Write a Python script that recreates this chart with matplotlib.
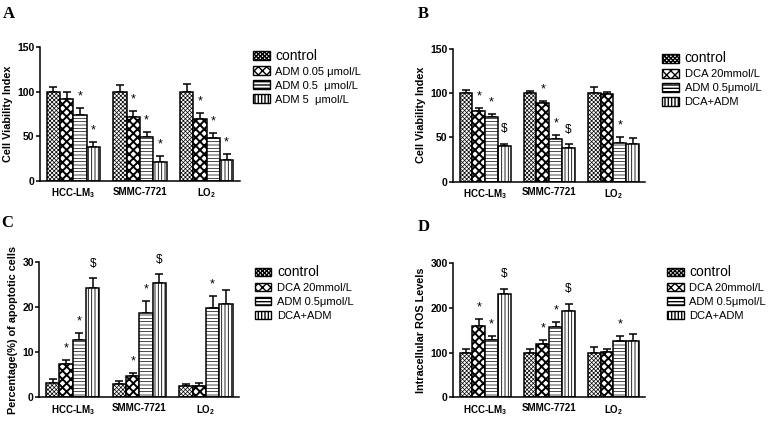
import matplotlib
matplotlib.use("Agg")
import matplotlib.pyplot as plt
from matplotlib.patches import Patch

plt.rcParams['font.family'] = ['Liberation Sans', 'DejaVu Sans']
plt.rcParams['mathtext.fontset'] = 'custom'
plt.rcParams['mathtext.bf'] = 'Liberation Sans:bold'
plt.rcParams['mathtext.rm'] = 'Liberation Sans:bold'
plt.rcParams['mathtext.default'] = 'bf'

# data
cells = ['HCC-LM$_3$', 'SMMC-7721', 'LO$_2$']

labels_a = ['control', 'ADM 0.05 \u03bcmol/L', 'ADM 0.5  \u03bcmol/L', 'ADM 5  \u03bcmol/L']
vals_a = [[100, 92, 74, 37.5], [100, 72, 49, 21.5], [100, 69, 48, 23]]
errs_a = [[5, 7, 8, 6.5], [7, 6.5, 6, 6.5], [9, 7, 6, 7]]
marks_a = [['', '', '*', '*'], ['', '*', '*', '*'], ['', '*', '*', '*']]

labels_bcd = ['control', 'DCA 20mmol/L', 'ADM 0.5\u03bcmol/L', 'DCA+ADM']
vals_b = [[100, 79.5, 73, 40.5], [100, 89, 48, 38], [100, 99, 44, 43]]
errs_b = [[3.5, 3.5, 3, 2.5], [2, 2, 4.5, 4.5], [7, 2, 6, 6]]
marks_b = [['', '*', '*', '$'], ['', '*', '*', '$'], ['', '', '*', '']]

vals_c = [[3.2, 7.4, 12.8, 24.1], [2.9, 4.7, 18.7, 25.3], [2.4, 2.5, 19.7, 20.6]]
errs_c = [[0.8, 0.9, 1.4, 2.3], [0.7, 0.6, 2.7, 2.0], [0.5, 0.6, 2.8, 3.1]]
marks_c = [['', '*', '*', '$'], ['', '*', '*', '$'], ['', '', '*', '']]

vals_d = [[100, 160, 128, 230], [100, 120, 158, 193], [100, 101, 127, 127]]
errs_d = [[7, 16, 8, 13], [7, 8, 11, 16], [13, 6, 11, 15]]
marks_d = [['', '*', '*', '$'], ['', '*', '*', '$'], ['', '', '*', '']]

hatches = ['xxxxxxxx', 'xxxx', '-----', '|||||']
hatch_lw = [0.5, 1.4, 0.5, 0.6]

fig = plt.figure(figsize=(7.72, 4.22), dpi=100)


def panel(rect, vals, errs, marks, labels, ymax, yticks, ylabel, letter, letter_xy, leg_xy):
    ax = fig.add_axes(rect)
    w = 0.2
    for k in range(4):
        xs = [g + 0.5 + (k - 1.5) * w for g in range(3)]
        ys = [v[k] for v in vals]
        es = [e[k] for e in errs]
        with plt.rc_context({'hatch.linewidth': hatch_lw[k]}):
            bars = ax.bar(xs, ys, w, color='white', edgecolor='black', linewidth=1.1,
                          hatch=hatches[k], zorder=2)
        for b in bars:
            if hasattr(b, 'set_hatch_linewidth'):
                b.set_hatch_linewidth(hatch_lw[k])
        ax.errorbar(xs, ys, yerr=[[0] * 3, es], fmt='none', ecolor='black',
                    elinewidth=1.1, capsize=3, capthick=1.1, zorder=1)
        for g in range(3):
            m = marks[g][k]
            if m:
                ax.annotate(m, (xs[g], ys[g] + es[g]), xytext=(0, 4 if m == '*' else 6),
                            textcoords='offset points', ha='center', va='bottom',
                            fontsize=9 if m == '*' else 8.5)
    ax.set_xlim(0, 3)
    ax.set_ylim(0, ymax)
    ax.set_yticks(yticks)
    ax.set_xticks([0.5, 1.5, 2.5])
    ax.set_xticklabels(cells, fontsize=7, fontweight='bold')
    ax.tick_params(axis='x', length=0, pad=4)
    ax.tick_params(axis='y', length=3, width=1.1, labelsize=7.5, pad=1)
    for t in ax.get_yticklabels():
        t.set_fontweight('bold')
    ax.spines['top'].set_visible(False)
    ax.spines['right'].set_visible(False)
    ax.spines['left'].set_linewidth(1.1)
    ax.spines['bottom'].set_linewidth(1.1)
    ax.set_ylabel(ylabel, fontsize=7.8, fontweight='bold', labelpad=3)
    fig.text(letter_xy[0], letter_xy[1], letter, family='Liberation Serif',
             fontweight='bold', fontsize=12, ha='left', va='top')
    handles = [Patch(facecolor='white', edgecolor='black', hatch=hatches[k], linewidth=1.0)
               for k in range(4)]
    leg = fig.legend(handles, labels, loc='upper left', bbox_to_anchor=leg_xy,
                     frameon=False, fontsize=8, handlelength=1.5, handleheight=0.8,
                     handletextpad=0.5, labelspacing=0.35, borderpad=0, borderaxespad=0)
    leg.get_texts()[0].set_fontsize(10)
    return ax


panel([0.0518, 0.571, 0.259, 0.318], vals_a, errs_a, marks_a, labels_a, 150,
      [0, 50, 100, 150], 'Cell Viability Index', 'A', (0.004, 0.985), (0.328, 0.885))
panel([0.587, 0.569, 0.249, 0.316], vals_b, errs_b, marks_b, labels_bcd, 150,
      [0, 50, 100, 150], 'Cell Viability Index', 'B', (0.541, 0.985), (0.858, 0.878))
panel([0.051, 0.0585, 0.259, 0.321], vals_c, errs_c, marks_c, labels_bcd, 30,
      [0, 10, 20, 30], 'Percentage(%) of apoptotic cells', 'C', (0.002, 0.49), (0.330, 0.372))
panel([0.587, 0.0585, 0.249, 0.318], vals_d, errs_d, marks_d, labels_bcd, 300,
      [0, 100, 200, 300], 'Intracellular ROS Levels', 'D', (0.541, 0.48), (0.864, 0.372))

fig.savefig('out.png', dpi=100)
